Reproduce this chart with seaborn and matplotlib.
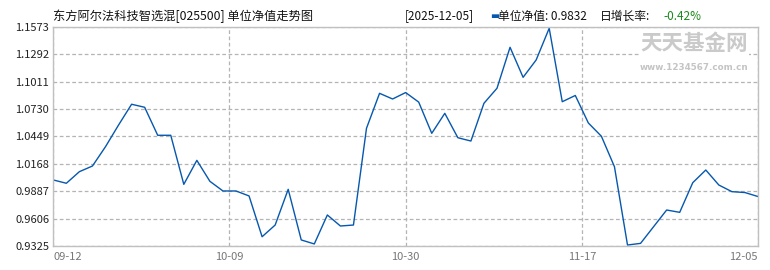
import numpy as np
import pandas as pd
import matplotlib
matplotlib.use("Agg")
import matplotlib.pyplot as plt
import seaborn as sns

# ---- data ----
nav = [1.0002, 0.9968, 1.0087, 1.0145, 1.0343, 1.0565, 1.0778, 1.0747, 1.0460, 1.0460,
       0.9957, 1.0203, 0.9988, 0.9889, 0.9889, 0.9838, 0.9420, 0.9540, 0.9906, 0.9387,
       0.9346, 0.9643, 0.9530, 0.9540, 1.0532, 1.0890, 1.0832, 1.0898, 1.0800, 1.0480,
       1.0685, 1.0435, 1.0401, 1.0788, 1.0942, 1.1362, 1.1054, 1.1232, 1.1557, 1.0804,
       1.0868, 1.0586, 1.0450, 1.0138, 0.9335, 0.9352, 0.9523, 0.9694, 0.9670, 0.9974,
       1.0104, 0.9950, 0.9882, 0.9873, 0.9832]
x_tick_labels = ["09-12", "10-09", "10-30", "11-17", "12-05"]
y_ticks = [0.9325, 0.9606, 0.9887, 1.0168, 1.0449, 1.0730, 1.1011, 1.1292, 1.1573]
title = "东方阿尔法科技智选混[025500] 单位净值走势图"
date_text = "[2025-12-05]"
nav_text = "单位净值: 0.9832"
rate_label = "日增长率:"
rate_text = "-0.42%"

df = pd.DataFrame({"idx": np.arange(len(nav)), "nav": nav})

sns.set_theme(style="white")
plt.rcParams["font.family"] = ["Noto Sans CJK SC", "DejaVu Sans"]

W, H = 770, 270
fig = plt.figure(figsize=(W / 100, H / 100), dpi=100)
fig.patch.set_facecolor("white")
left, right, top, bottom = 53.3, 758.0, 26.7, 246.0
ax = fig.add_axes([left / W, (H - bottom) / H, (right - left) / W, (bottom - top) / H])

sns.lineplot(data=df, x="idx", y="nav", ax=ax, color="#0658ae", linewidth=1.0)

n = len(nav) - 1
xt = [0, n / 4, n / 2, 3 * n / 4, n]
ax.set_xlim(0, n)
ax.set_ylim(y_ticks[0], y_ticks[-1])
ax.set_xticks(xt)
ax.set_xticklabels(x_tick_labels)
ax.set_yticks(y_ticks)
ax.set_yticklabels([f"{v:.4f}" for v in y_ticks])
ax.set_xlabel("")
ax.set_ylabel("")

ax.grid(True, linestyle=(0, (3, 2)), color="#b4b4b4", linewidth=0.9)
for s in ax.spines.values():
    s.set_color("#c0c0c0")
    s.set_linewidth(1.0)
ax.tick_params(axis="both", length=0)
ax.tick_params(axis="y", labelsize=8, colors="#222222", pad=3)
ax.tick_params(axis="x", labelsize=8, colors="#777777", pad=4)
labs = ax.get_xticklabels()
labs[0].set_horizontalalignment("left")
labs[-1].set_horizontalalignment("right")

# header texts
ty = 1 - 16 / H
fig.text(53 / W, ty, title, fontsize=8.8, color="#111111", ha="left", va="center")
fig.text(405 / W, ty, date_text, fontsize=8.5, color="#111111", ha="left", va="center")
fig.text(490 / W, ty, "▬", fontsize=7, color="#0658ae", ha="left", va="center",
         family=["DejaVu Sans"])
fig.text(498 / W, ty, nav_text, fontsize=8.5, color="#111111", ha="left", va="center")
fig.text(600 / W, ty, rate_label, fontsize=8.5, color="#111111", ha="left", va="center")
fig.text(663 / W, ty, rate_text, fontsize=8.5, color="#1a8a1a", ha="left", va="center")

# watermark
fig.text(694 / W, 1 - 44 / H, "天天基金网", fontsize=15.5, color="#cacaca", ha="center",
         va="center", fontweight="bold",
         bbox=dict(facecolor="white", edgecolor="none", pad=1.0))
fig.text(694 / W, 1 - 68 / H, "www.1234567.com.cn", fontsize=6.3, color="#c4c4c4",
         ha="center", va="center", family=["DejaVu Sans"], fontweight="bold")

fig.savefig("out.png", dpi=100, facecolor="white")
